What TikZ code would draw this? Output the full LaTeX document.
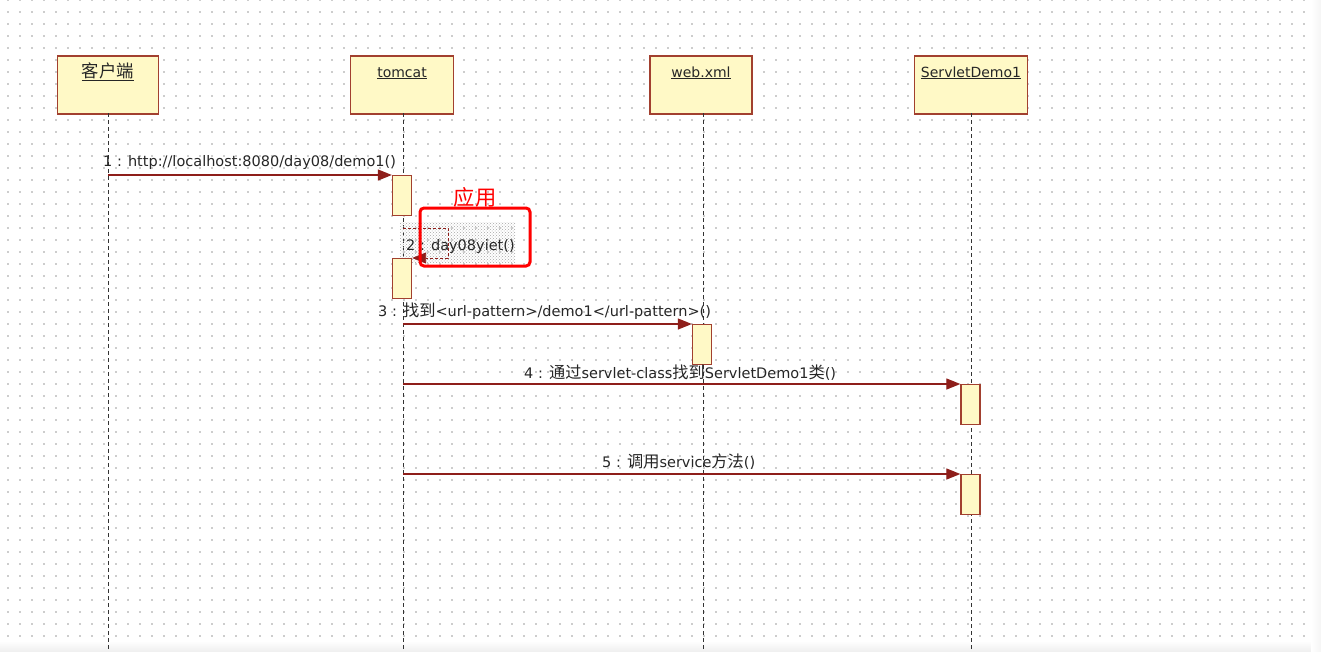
\documentclass[tikz,border=0pt]{standalone}
\usepackage{fontspec}
\setmainfont{DejaVu Sans}
\newfontfamily\cjk[Scale=1.12]{Noto Sans CJK SC}
\usepackage{tikz}
\usetikzlibrary{arrows.meta,positioning,patterns}

\definecolor{lifefill}{HTML}{FFF9C6}
\definecolor{lifedraw}{HTML}{A2402F}
\definecolor{msgred}{HTML}{8E1E1A}
\definecolor{griddot}{HTML}{CDCDCD}

\begin{document}
\begin{tikzpicture}[x=1pt,y=-1pt,>={Triangle[length=14pt,width=11pt]},
  font=\fontsize{14.5}{17}\selectfont]
  \tikzset{
    obj/.style={draw=lifedraw, line width=1.6pt, fill=lifefill, minimum height=58pt, anchor=north, inner sep=0pt},
    objname/.style={anchor=base, inner sep=0pt, text=black!85, font=\fontsize{14}{17}\selectfont},
    act/.style={draw=lifedraw, line width=1.3pt, fill=lifefill, minimum width=19pt, minimum height=40pt, anchor=north, inner sep=0pt},
    life/.style={line width=1pt, black!80, dash pattern=on 4pt off 3pt},
    msg/.style={draw=msgred, line width=1.2pt, ->},
    lbl/.style={anchor=base west, inner sep=0pt, text=black!85}
  }
  \useasboundingbox (0,0) rectangle (1321,651);
  \fill[white] (0,0) rectangle (1321,651);

  % dotted background grid
  \foreach \r in {0,...,54}
    \draw[griddot, line width=1.3pt, dash pattern=on 1.3pt off 10.7pt] (7.4,12*\r) -- (1321,12*\r);
  \shade[top color=white, bottom color=gray!12] (0,641) rectangle (1321,651);
  \shade[left color=white, right color=gray!8] (1311,0) rectangle (1321,651);

  % objects
  \node[obj, minimum width=101pt] (client) at (108,55) {};
  \node[obj, minimum width=103pt] (tomcat) at (402,55) {};
  \node[obj, minimum width=102pt] (webxml) at (701,55) {};
  \node[obj, minimum width=113pt] (servlet) at (971,55) {};
  \node[objname] (clientname) at (108,77) {\underline{\cjk\fontsize{15.5}{17}\selectfont 客户端}};
  \node[objname] (tomcatname) at (402,77) {\underline{tomcat}};
  \node[objname] (webxmlname) at (701,77) {\underline{web.xml}};
  \node[objname] (servletname) at (971,77) {\underline{ServletDemo1}};

  % lifelines
  \coordinate (clientend) at (108,651);
  \coordinate (tomcatend) at (403,651);
  \coordinate (webxmlend) at (703,651);
  \coordinate (servletend) at (971,651);
  \draw[life] (108,113) -- (clientend);
  \draw[life] (403,113) -- (tomcatend);
  \draw[life] (703,113) -- (webxmlend);
  \draw[life] (971,113) -- (servletend);

  % selected self call
  \fill[pattern=crosshatch dots, pattern color=gray!70] (400,222) rectangle (515,262);

  % activations
  \node[act] (tomcatact1) at (402,175) {};
  \node[act] (tomcatact2) at (402,258) {};
  \node[act] (webxmlact) at (702,324) {};
  \node[act] (servletact1) at (970.5,384) {};
  \node[act] (servletact2) at (970.5,474) {};

  % messages
  \coordinate (m1) at (108,175);
  \draw[msg] (m1) -- (tomcatact1.north west);
  \node[lbl] (m1lbl) at (103,166) {1 : http://localhost:8080/day08/demo1()};

  \coordinate (m2a) at (403,228);
  \coordinate (m2b) at (448,228);
  \coordinate (m2c) at (448,258);
  \draw[msg, line width=0.9pt, densely dashed] (m2a) -- (m2b) -- (m2c) -- (tomcatact2.north east);
  \node[lbl] (m2lbl) at (406,250) {2 : day08yiet()};

  \coordinate (m3) at (403,324);
  \draw[msg] (m3) -- (webxmlact.north west);
  \node[lbl] (m3lbl) at (378,316) {3 : {\cjk 找到}<url-pattern>/demo1</url-pattern>()};

  \coordinate (m4) at (403,384);
  \draw[msg] (m4) -- (servletact1.north west);
  \node[lbl] (m4lbl) at (524,378) {4 : {\cjk 通过}servlet-class{\cjk 找到}ServletDemo1{\cjk 类}()};

  \coordinate (m5) at (403,474);
  \draw[msg] (m5) -- (servletact2.north west);
  \node[lbl] (m5lbl) at (602,467) {5 : {\cjk 调用}service{\cjk 方法}()};

  % annotation
  \node[draw=red, line width=3pt, rounded corners=4pt, minimum width=110pt, minimum height=58pt, inner sep=0pt] (appbox) at (475,237) {};
  \node[text=red, font=\cjk\fontsize{19}{22}\selectfont, inner sep=0pt] (applbl) at (475,197) {应用};
\end{tikzpicture}
\end{document}
